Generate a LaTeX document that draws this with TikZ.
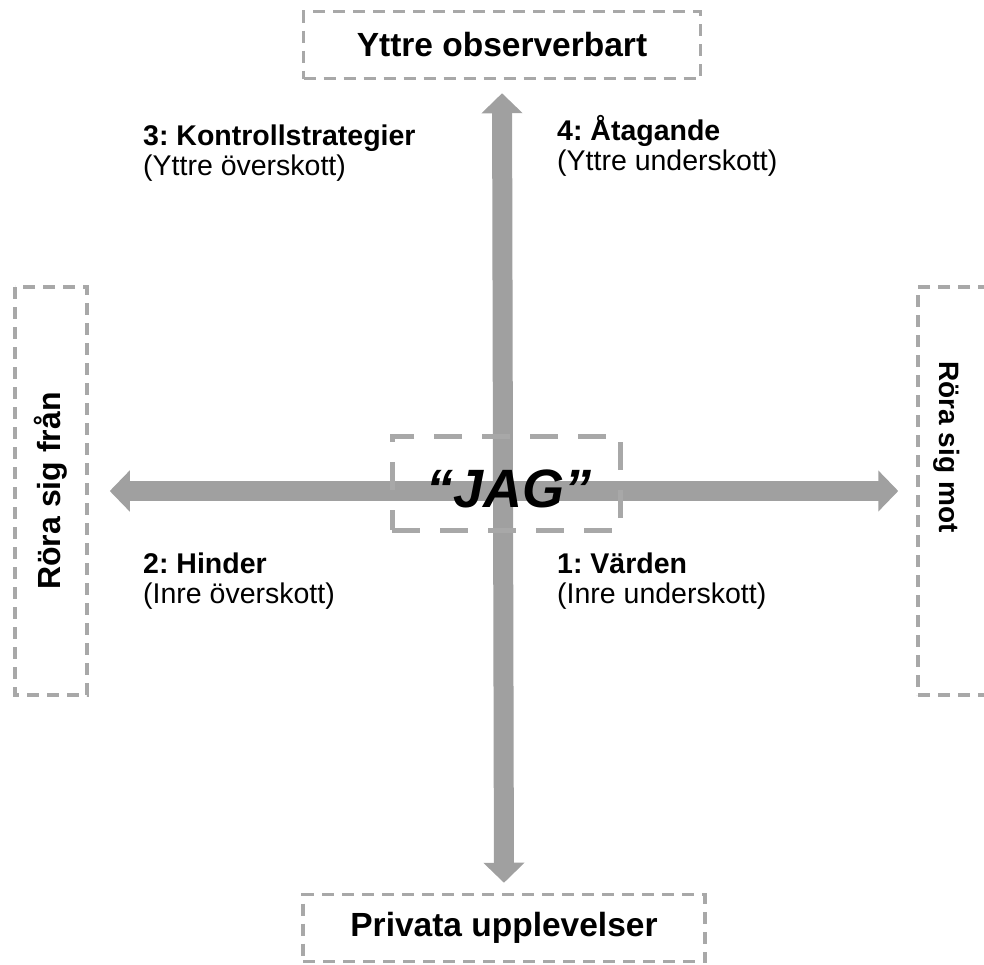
\documentclass[tikz,border=0pt]{standalone}
\usepackage{fontspec}
\setmainfont{Liberation Sans}
\frenchspacing
\usepackage{tikz}
\usetikzlibrary{positioning, arrows.meta}
\definecolor{jgAxis}{RGB}{160, 160, 160}
\definecolor{jgDash}{RGB}{168, 168, 168}
\tikzset{
    base/.style={
        font=\fontsize{28.5}{30}\selectfont,
        align=left,
        inner sep=0pt
    },
    pole/.style={
        draw=jgDash,
        line width=3.5pt,
        dash pattern=on 12pt off 8pt,
        font=\fontsize{33.5}{38}\selectfont\bfseries,
        inner sep=0pt
    },
    self/.style={
        draw=jgDash,
        line width=5pt,
        dash pattern=on 28pt off 20pt,
        minimum width=228pt,
        minimum height=94pt
    },
    axis/.style={
        {Triangle[length=20pt, width=40pt]}-{Triangle[length=20pt, width=40pt]},
        line width=20pt,
        color=jgAxis
    },
    quad/.style={
        base,
        anchor=base west
    }
}

\begin{document}
\begin{tikzpicture}[x=1pt, y=-1pt]
  \useasboundingbox (0,0) rectangle (984,964);

  % Poles
  \node[pole, minimum width=397pt, minimum height=67pt] (outer) at (502,45) {Yttre observerbart};
  \node[pole, minimum width=402pt, minimum height=67pt] (private) at (504,928) {Privata upplevelser};
  \node[pole, rotate=90, minimum width=408pt, minimum height=72pt, font=\fontsize{32}{38}\selectfont\bfseries] (away) at (51,491) {Röra sig från};
  \node[pole, minimum width=72pt, minimum height=408pt] (toward) at (954,491) {};
  \node[pole, draw=none, rotate=-90, font=\fontsize{28}{34}\selectfont\bfseries] (towardtext) at (947,447) {Röra sig mot};

  % Axes
  \draw[axis, shorten <=21pt, shorten >=18pt] (away.south) -- (toward.west);
  \draw[axis, shorten <=13pt, shorten >=10pt] (outer.south) -- (private.north);

  % Self
  \node[self] (jag) at (506,483) {};
  \node[font=\fontsize{54}{60}\selectfont\bfseries\itshape] (jagtext) at (509,489) {“JAG”};

  % Quadrants (anchored on the second line)
  \node[quad] (q3) at (143,175) {\textbf{3: Kontrollstrategier}\\(Yttre överskott)};
  \node[quad] (q4) at (557,170) {\textbf{4: Åtagande}\\(Yttre underskott)};
  \node[quad] (q2) at (143,603) {\textbf{2: Hinder}\\(Inre överskott)};
  \node[quad] (q1) at (557,603) {\textbf{1: Värden}\\(Inre underskott)};
\end{tikzpicture}
\end{document}
